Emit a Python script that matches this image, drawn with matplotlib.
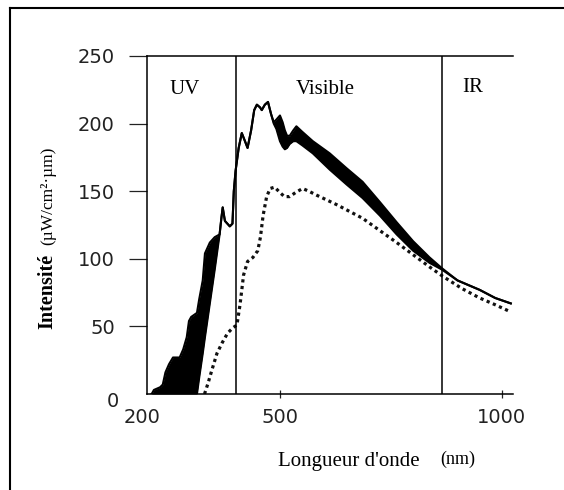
import matplotlib.pyplot as plt
from matplotlib.lines import Line2D

# spectre solaire : enveloppe haute / basse (bande noire) et courbe pointillee
wavelength = [211, 216, 230, 236, 242, 250, 259, 274, 282, 290, 295, 300, 313,
              318, 326, 331, 342, 353, 364, 368, 371, 376, 387, 393, 396, 400,
              407, 414, 420, 427, 435, 442, 448, 455, 459, 466, 473, 480, 486,
              492, 500, 506, 511, 516, 522, 530, 537, 550, 574, 612, 650, 686,
              725, 763, 800, 837, 865, 900, 950, 985, 1020]
upper = [0, 3, 5, 7, 16, 22, 27, 27, 33, 42, 54, 57, 60,
         70, 84, 104, 112, 116, 118, 130, 138, 128, 124, 126, 150, 165,
         182, 193, 188, 182, 195, 210, 214, 212, 210, 214, 216, 207, 201,
         203, 206, 201, 195, 191, 191, 195, 198, 194, 187, 178, 167, 157,
         142, 127, 113, 101, 93, 84, 77, 71, 67]
lower = [0, 0, 0, 0, 0, 0, 0, 0, 0, 0, 0, 0, 0,
         12, 30, 42, 67, 92, 118, 130, 138, 128, 124, 126, 150, 165,
         182, 193, 188, 182, 195, 210, 214, 212, 210, 214, 216, 207, 200,
         196, 187, 183, 181, 182, 185, 187, 187, 184, 178, 166, 155, 145,
         132, 118, 106, 97, 92, 84, 77, 71, 67]

dot_wavelength = [330, 338, 346, 358, 370, 382, 394, 403, 410, 418, 427, 439,
                  450, 456, 462, 470, 478, 488, 500, 510, 522, 535, 551, 565,
                  583, 628, 686, 763, 837, 867, 910, 950, 985, 1018]
dot_values = [0, 8, 17, 30, 38, 45, 49, 51, 66, 88, 98, 101,
              106, 116, 132, 146, 152, 153, 149, 146, 146, 149, 152, 150,
              147, 140, 130, 112, 94, 87, 78, 71, 66, 61]

boundaries = [400, 865]
regions = ['UV', 'Visible', 'IR']
yticks = [50, 100, 150, 200, 250]
xticks = [500, 1000]

W, H = 564, 490
serif = 'Liberation Serif'


def fx(px):
    return px / W


def fy(py):
    return 1 - py / H


fig = plt.figure(figsize=(W / 100, H / 100), dpi=100)
ax = fig.add_axes([fx(146.8), fy(394), (513 - 146.8) / W, (394 - 56) / H])

ax.fill_between(wavelength, lower, upper, color='black', lw=0)
ax.plot(wavelength, upper, color='black', lw=1.5)
ax.plot(wavelength, lower, color='black', lw=1.5)
ax.plot(dot_wavelength, dot_values, color='#111111', lw=2.3,
        linestyle=(0, (1, 1.1)), dash_capstyle='butt')

for b in boundaries:
    ax.axvline(b, color='black', lw=1.1)

ax.set_xlim(200, 1025)
ax.set_ylim(0, 250)
ax.spines['right'].set_visible(False)
for s in ['left', 'bottom', 'top']:
    ax.spines[s].set_linewidth(1.1)

ax.set_yticks(yticks)
ax.set_xticks(xticks)
ax.tick_params(axis='y', direction='out', length=13, width=0.9, pad=10,
               labelsize=14, colors='#222222')
ax.tick_params(axis='x', direction='inout', length=6, width=0.9, pad=7,
               labelsize=14, colors='#222222')

# labels deplaces "0" et "200"
fig.text(fx(113), fy(401), '0', ha='center', va='center', fontsize=14,
         color='#222222')
fig.text(fx(142), fy(417), '200', ha='center', va='center', fontsize=14,
         color='#222222')

# regions
for name, px, py in zip(regions, [185, 325, 473], [89, 89, 87]):
    fig.text(fx(px), fy(py), name, ha='center', va='center', fontsize=15,
             family=serif)

# titres des axes
fig.text(fx(278), fy(461), "Longueur d'onde", ha='left', va='center',
         fontsize=15, family=serif)
fig.text(fx(440), fy(459), '(nm)', ha='left', va='center',
         fontsize=13, family=serif)
fig.text(fx(47), fy(291), 'Intensité', ha='center', va='center',
         rotation=90, fontsize=14.5, fontweight='bold', family=serif)
fig.text(fx(48), fy(196), '(µW/cm²·µm)', ha='center', va='center',
         rotation=90, fontsize=12.5, family=serif)

# cadre de l'image
fig.add_artist(Line2D([fx(10), fx(10)], [0, fy(8)], color='black', lw=1.5))
fig.add_artist(Line2D([fx(10), 1], [fy(8), fy(8)], color='black', lw=1.5))

fig.savefig('out.png', dpi=100)
